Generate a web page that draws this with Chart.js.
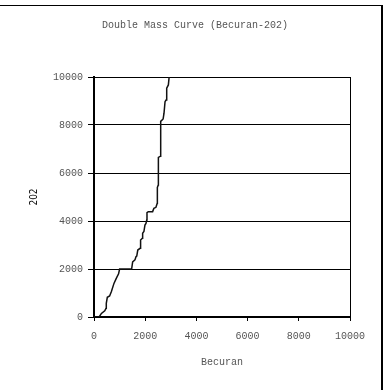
<!DOCTYPE html>
<html>
<head>
<meta charset="utf-8">
<script src="https://cdn.jsdelivr.net/npm/chart.js@4"></script>
<style>
  html, body { margin: 0; padding: 0; background: #fff; }
  #wrap { position: relative; width: 390px; height: 390px; overflow: hidden; }
  #frame { position: absolute; left: 0; top: 5px; width: 381px; height: 400px;
           border-top: 1px solid #000; border-right: 2px solid #000; pointer-events: none; }
</style>
</head>
<body>
<div id="wrap">
  <canvas id="chart" width="390" height="390"></canvas>
  <div id="frame"></div>
</div>
<script>
// 累積雨量 (Becuran)
const becuran = [0, 200, 290, 420, 470, 480, 520, 610, 680, 780,
    870, 960, 1000, 1470, 1510, 1600, 1640, 1670, 1710, 1800,
    1820, 1890, 1900, 1950, 1990, 2030, 2060, 2070, 2120, 2290,
    2340, 2420, 2470, 2475, 2510, 2515, 2600, 2605, 2700, 2735,
    2775, 2815, 2840, 2905, 2935];

// 累積雨量 (202)
const sta202 = [0, 0, 150, 260, 360, 570, 820, 875, 1060, 1400,
    1610, 1800, 2000, 2000, 2300, 2380, 2510, 2540, 2790, 2860,
    3210, 3280, 3490, 3560, 3830, 3900, 4040, 4350, 4390, 4390,
    4530, 4570, 4740, 5400, 5500, 6650, 6700, 8150, 8250, 8490,
    8970, 9040, 9530, 9670, 10000];

// 軸の目盛り
const xTicks = [0, 2000, 4000, 6000, 8000, 10000];
const yTicks = [0, 2000, 4000, 6000, 8000, 10000];

const titleText = 'Double Mass Curve (Becuran-202)';
const xTitle = 'Becuran';
const yTitle = '202';

const monoFont = "'Liberation Mono', 'Courier New', monospace";
const textGray = '#555';

const points = becuran.map((x, i) => ({ x: x, y: sta202[i] }));

const ctx = document.getElementById('chart').getContext('2d');
const chart = new Chart(ctx, {
    type: 'scatter',
    data: {
        datasets: [{
            data: points,
            showLine: true,
            borderColor: '#111',
            borderWidth: 1.5,
            pointRadius: 0,
            tension: 0
        }]
    },
    options: {
        responsive: false,
        animation: false,
        layout: { padding: 0 },
        plugins: {
            legend: { display: false },
            tooltip: { enabled: false },
            title: {
                display: true,
                text: titleText,
                color: textGray,
                font: { family: monoFont, size: 10, weight: 'normal' },
                padding: { top: 19, bottom: 46 }
            }
        },
        scales: {
            x: {
                type: 'linear',
                min: xTicks[0],
                max: xTicks[xTicks.length - 1],
                afterBuildTicks: s => { s.ticks = xTicks.map(v => ({ value: v })); },
                afterFit: s => { s.height = 73; },
                border: { display: true, color: '#000', width: 2 },
                grid: { display: true, drawOnChartArea: false, color: '#000', tickLength: 4 },
                ticks: {
                    color: textGray,
                    padding: 9,
                    maxRotation: 0,
                    font: { family: monoFont, size: 10 },
                    callback: v => String(v)
                },
                title: {
                    display: true,
                    text: xTitle,
                    color: textGray,
                    font: { family: monoFont, size: 10 },
                    padding: { top: 0, bottom: 22 }
                }
            },
            y: {
                type: 'linear',
                min: yTicks[0],
                max: yTicks[yTicks.length - 1],
                afterBuildTicks: s => { s.ticks = yTicks.map(v => ({ value: v })); },
                afterFit: s => { s.width = 94; },
                border: { display: true, color: '#000', width: 2 },
                grid: { display: true, color: '#000', lineWidth: 1, tickLength: 6 },
                ticks: {
                    color: textGray,
                    padding: 5,
                    font: { family: monoFont, size: 10 },
                    callback: v => String(v)
                },
                title: {
                    display: true,
                    text: yTitle,
                    color: '#000',
                    font: { family: "'Liberation Sans Narrow', 'DejaVu Sans Condensed', sans-serif", size: 10 },
                    padding: { top: 28, bottom: 0 }
                }
            },
            yRight: {
                type: 'linear',
                position: 'right',
                min: yTicks[0],
                max: yTicks[yTicks.length - 1],
                afterFit: s => { s.width = 40; },
                border: { display: true, color: '#000', width: 1 },
                grid: { display: false },
                ticks: { display: false }
            }
        }
    }
});
</script>
</body>
</html>
